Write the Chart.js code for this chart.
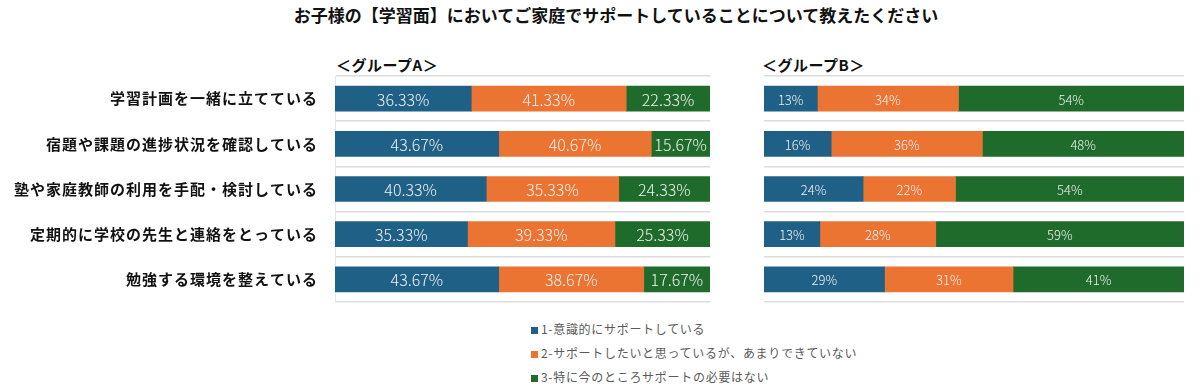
<!DOCTYPE html>
<html lang="ja">
<head>
<meta charset="utf-8">
<script src="https://cdn.jsdelivr.net/npm/chart.js@4"></script>
<style>
  body { margin: 0; width: 1200px; height: 392px; background: #fff; position: relative; overflow: hidden;
         font-family: 'Noto Sans CJK JP', sans-serif; }
  .box { position: absolute; }
  #title { left: 0; top: 4px; width: 1232px; text-align: center; font-size: 17px; font-weight: bold; line-height: 22px; color: #111; }
  .group { font-size: 15px; font-weight: bold; line-height: 20px; color: #111; top: 55px; letter-spacing: 0.5px; }
  #legend { left: 531px; top: 317px; font-size: 12px; color: #595959; letter-spacing: 0.7px; }
  #legend div { height: 24px; line-height: 24px; }
  #legend span.sq { display: inline-block; width: 7px; height: 7px; margin-right: 3px; vertical-align: 0px; }
</style>
</head>
<body>
<div id="title" class="box">お子様の【学習面】においてご家庭でサポートしていることについて教えたください</div>
<div class="box group" style="left:336px">＜グループA＞</div>
<div class="box group" style="left:762px">＜グループB＞</div>
<div class="box" style="left:0;top:64px;width:715px;height:250px"><canvas id="chartA"></canvas></div>
<div class="box" style="left:755px;top:64px;width:435px;height:250px"><canvas id="chartB"></canvas></div>
<div id="legend" class="box"></div>
<script>
// categories and series
const categories = [
    '学習計画を一緒に立てている',
    '宿題や課題の進捗状況を確認している',
    '塾や家庭教師の利用を手配・検討している',
    '定期的に学校の先生と連絡をとっている',
    '勉強する環境を整えている'
];
const seriesNames = [
    '1-意識的にサポートしている',
    '2-サポートしたいと思っているが、あまりできていない',
    '3-特に今のところサポートの必要はない'
];
const colors = ['#1f6086', '#eb7433', '#1e6b2b'];

const groupA1 = [36.33, 43.67, 40.33, 35.33, 43.67];
const groupA2 = [41.33, 40.67, 35.33, 39.33, 38.67];
const groupA3 = [22.33, 15.67, 24.33, 25.33, 17.67];

const groupB1 = [12.7, 16.0, 23.6, 13.3, 28.7];
const groupB2 = [33.6, 36.0, 22.0, 27.6, 30.6];
const groupB3 = [53.7, 48.0, 54.4, 59.1, 40.7];

Chart.defaults.font.family = "'Noto Sans CJK JP', sans-serif";

// legend
const legendEl = document.getElementById('legend');
seriesNames.forEach((name, i) => {
    const row = document.createElement('div');
    row.innerHTML = '<span class="sq" style="background:' + colors[i] + '"></span>' + name;
    legendEl.appendChild(row);
});

// draw the value in the middle of each bar
const barLabels = {
    id: 'barLabels',
    afterDatasetsDraw(chart, args, opts) {
        const ctx = chart.ctx;
        ctx.save();
        ctx.letterSpacing = '0px';
        ctx.font = opts.font;
        ctx.fillStyle = opts.color;
        ctx.textAlign = 'center';
        ctx.textBaseline = 'middle';
        chart.data.datasets.forEach((ds, i) => {
            chart.getDatasetMeta(i).data.forEach((bar, j) => {
                ctx.fillText(ds.data[j].toFixed(opts.digits) + '%', (bar.x + bar.base) / 2, bar.y + 1);
            });
        });
        ctx.restore();
    }
};

// spaced out category labels
const spacing = {
    id: 'spacing',
    beforeDraw(chart, args, opts) {
        chart.ctx.letterSpacing = opts.value;
    }
};

function makeChart(id, data, showLabels, digits, labelFont, padding) {
    return new Chart(document.getElementById(id), {
        type: 'bar',
        data: {
            labels: categories,
            datasets: data.map((d, i) => ({
                label: seriesNames[i],
                data: d,
                backgroundColor: colors[i],
                borderWidth: 0,
                barThickness: 25
            }))
        },
        options: {
            indexAxis: 'y',
            responsive: true,
            maintainAspectRatio: false,
            animation: false,
            layout: { padding: padding },
            plugins: {
                legend: { display: false },
                tooltip: { enabled: false },
                barLabels: { font: labelFont, color: '#f2f2f2', digits: digits },
                spacing: { value: showLabels ? '1px' : '0px' }
            },
            scales: {
                x: {
                    stacked: true,
                    min: 0,
                    max: 100,
                    display: false
                },
                y: {
                    stacked: true,
                    afterFit: (axis) => { axis.width = showLabels ? 335 : 0; },
                    grid: { color: '#dcdcdc', lineWidth: 1.5, drawTicks: showLabels, tickLength: 17, tickColor: 'rgba(0,0,0,0)' },
                    border: { display: showLabels, color: '#e6e6e6' },
                    ticks: {
                        display: showLabels,
                        padding: 0,
                        color: '#111',
                        font: { size: 15, weight: 'bold' }
                    }
                }
            }
        },
        plugins: [barLabels, spacing]
    });
}

makeChart('chartA', [groupA1, groupA2, groupA3], true, 2, '300 16px "Noto Sans CJK JP", sans-serif',
    { top: 12, bottom: 12, left: 0, right: 5 });
makeChart('chartB', [groupB1, groupB2, groupB3], false, 0, '300 13px "Noto Sans CJK JP", sans-serif',
    { top: 12, bottom: 12, left: 9, right: 6 });
</script>
</body>
</html>
